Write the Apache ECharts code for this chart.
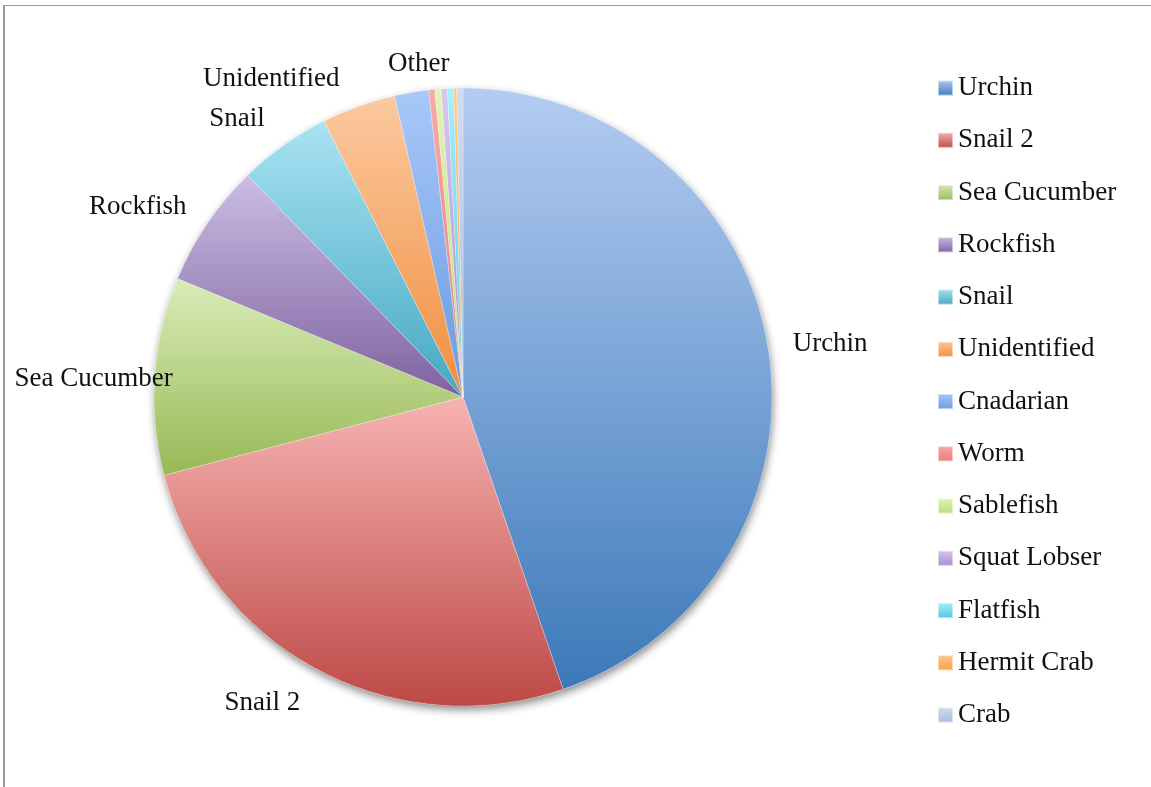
<!DOCTYPE html>
<html>
<head>
<meta charset="utf-8">
<script src="https://cdn.jsdelivr.net/npm/echarts@6/dist/echarts.min.js"></script>
<style>
    html, body { margin: 0; padding: 0; background: #fff; }
    #chart { width: 1151px; height: 787px; position: relative; }
    #frame {
        position: absolute; left: 3px; top: 5px; right: 0; bottom: 0;
        border-top: 1.5px solid #9a9a9a; border-left: 2px solid #9a9a9a;
        pointer-events: none;
    }
</style>
</head>
<body>
<div id="chart"></div>
<div id="frame"></div>
<script>
(function () {
    // counts per species
    var names = ['Urchin', 'Snail 2', 'Sea Cucumber', 'Rockfish', 'Snail', 'Unidentified',
        'Cnadarian', 'Worm', 'Sablefish', 'Squat Lobser', 'Flatfish', 'Hermit Crab', 'Crab'];
    var counts = [277, 162, 64, 40, 30, 24, 11, 2, 2, 2, 2, 1, 2];
    // text of the slice labels ('' = no label)
    var sliceLabels = ['Urchin', 'Snail 2', 'Sea Cucumber', 'Rockfish', 'Snail', 'Unidentified',
        'Other', '', '', '', '', '', ''];

    // gradient colours, light (top) -> dark (bottom)
    var lightColors = ['#b4ccf2', '#f6b3b2', '#d9ecb8', '#cbbde3', '#a9e3f3', '#fcc9a0',
        '#a8c8f8', '#f8aaa8', '#e0f5b8', '#d8c8f0', '#a8eefa', '#ffc890', '#d0dcf0'];
    var darkColors = ['#3c79b9', '#bd4946', '#98b956', '#7e62a0', '#45a7c2', '#f08e3e',
        '#6a9ae0', '#e87a78', '#b8dc7a', '#a888d0', '#50c8e0', '#f8a040', '#a8bcdc'];

    // hand placement of the labels, like the excel original (px nudge from default spot)
    var labelNudge = [[8, 0], [-6, 23], [35, 4], [-6, -10], [-7, -17], [-10, -16], [45, -17]];

    var FONT = '"Liberation Serif", serif';

    function grad(i) {
        return new echarts.graphic.LinearGradient(0, 0, 0, 1, [
            {offset: 0, color: lightColors[i]},
            {offset: 1, color: darkColors[i]}
        ]);
    }

    var pieData = names.map(function (n, i) {
        return {
            name: n,
            value: counts[i],
            itemStyle: {color: grad(i)},
            label: {show: sliceLabels[i] !== '', formatter: sliceLabels[i]}
        };
    });

    var legendData = names.map(function (n, i) {
        return {name: n, itemStyle: {color: grad(i)}};
    });

    var myChart = echarts.init(document.getElementById('chart'));
    myChart.setOption({
        animation: false,
        backgroundColor: '#fff',
        legend: {
            orient: 'vertical',
            left: 937,
            top: 74,
            padding: 0,
            icon: 'rect',
            itemWidth: 15,
            itemHeight: 15,
            itemGap: 24.25,
            data: legendData,
            selectedMode: false,
            textStyle: {fontFamily: FONT, fontSize: 27, lineHeight: 28, color: '#111'}
        },
        series: [
            {
                // shadow under the pie
                type: 'pie',
                silent: true,
                center: [463, 397],
                radius: 309,
                data: [{value: 1, name: 'shadow'}],
                label: {show: false},
                labelLine: {show: false},
                itemStyle: {
                    color: '#fff',
                    shadowColor: 'rgba(0,0,0,0.45)',
                    shadowBlur: 8,
                    shadowOffsetX: 1,
                    shadowOffsetY: 4
                }
            },
            {
                type: 'pie',
                center: [463, 397],
                radius: 309,
                startAngle: 90,
                clockwise: true,
                avoidLabelOverlap: false,
                data: pieData,
                itemStyle: {borderColor: 'rgba(255,255,255,0.5)', borderWidth: 0.5},
                label: {
                    position: 'outside',
                    fontFamily: FONT,
                    fontSize: 27,
                    color: '#111',
                    overflow: 'none'
                },
                labelLine: {show: false, length: 12, length2: 0},
                labelLayout: function (params) {
                    var n = labelNudge[params.dataIndex];
                    if (!n) return {};
                    return {dx: n[0], dy: n[1]};
                },
                emphasis: {disabled: true}
            }
        ]
    });
})();
</script>
</body>
</html>
